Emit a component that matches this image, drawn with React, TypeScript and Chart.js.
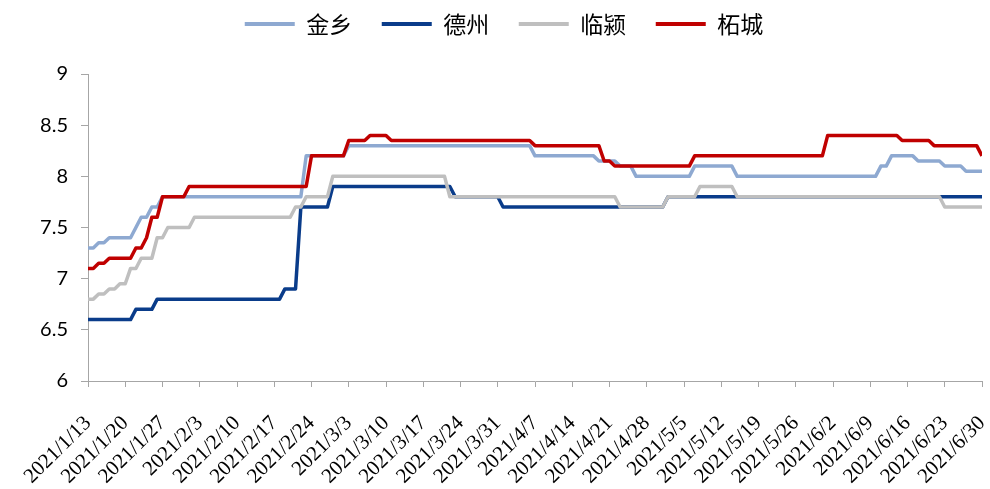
import React, { useEffect, useRef } from 'react';
import { Chart, registerables } from 'chart.js';

Chart.register(...registerables);

// x-axis tick labels (one every 7 days, daily data from 2021/1/13 to 2021/6/30)
const tickLabels = [
  '2021/1/13', '2021/1/20', '2021/1/27', '2021/2/3', '2021/2/10', '2021/2/17', '2021/2/24',
  '2021/3/3', '2021/3/10', '2021/3/17', '2021/3/24', '2021/3/31', '2021/4/7', '2021/4/14',
  '2021/4/21', '2021/4/28', '2021/5/5', '2021/5/12', '2021/5/19', '2021/5/26', '2021/6/2',
  '2021/6/9', '2021/6/16', '2021/6/23', '2021/6/30',
];

const seriesNames = ['金乡', '德州', '临颍', '柘城'];

// daily values, 169 days
const jinxiang = [
  7.3, 7.3, 7.35, 7.35, 7.4, 7.4, 7.4, 7.4, 7.4, 7.5,
  7.6, 7.6, 7.7, 7.7, 7.8, 7.8, 7.8, 7.8, 7.8, 7.8,
  7.8, 7.8, 7.8, 7.8, 7.8, 7.8, 7.8, 7.8, 7.8, 7.8,
  7.8, 7.8, 7.8, 7.8, 7.8, 7.8, 7.8, 7.8, 7.8, 7.8,
  7.8, 8.2, 8.2, 8.2, 8.2, 8.2, 8.2, 8.2, 8.2, 8.3,
  8.3, 8.3, 8.3, 8.3, 8.3, 8.3, 8.3, 8.3, 8.3, 8.3,
  8.3, 8.3, 8.3, 8.3, 8.3, 8.3, 8.3, 8.3, 8.3, 8.3,
  8.3, 8.3, 8.3, 8.3, 8.3, 8.3, 8.3, 8.3, 8.3, 8.3,
  8.3, 8.3, 8.3, 8.3, 8.2, 8.2, 8.2, 8.2, 8.2, 8.2,
  8.2, 8.2, 8.2, 8.2, 8.2, 8.2, 8.15, 8.15, 8.15, 8.15,
  8.1, 8.1, 8.1, 8.0, 8.0, 8.0, 8.0, 8.0, 8.0, 8.0,
  8.0, 8.0, 8.0, 8.0, 8.1, 8.1, 8.1, 8.1, 8.1, 8.1,
  8.1, 8.1, 8.0, 8.0, 8.0, 8.0, 8.0, 8.0, 8.0, 8.0,
  8.0, 8.0, 8.0, 8.0, 8.0, 8.0, 8.0, 8.0, 8.0, 8.0,
  8.0, 8.0, 8.0, 8.0, 8.0, 8.0, 8.0, 8.0, 8.0, 8.1,
  8.1, 8.2, 8.2, 8.2, 8.2, 8.2, 8.15, 8.15, 8.15, 8.15,
  8.15, 8.1, 8.1, 8.1, 8.1, 8.05, 8.05, 8.05, 8.05,
];

const dezhou = [
  6.6, 6.6, 6.6, 6.6, 6.6, 6.6, 6.6, 6.6, 6.6, 6.7,
  6.7, 6.7, 6.7, 6.8, 6.8, 6.8, 6.8, 6.8, 6.8, 6.8,
  6.8, 6.8, 6.8, 6.8, 6.8, 6.8, 6.8, 6.8, 6.8, 6.8,
  6.8, 6.8, 6.8, 6.8, 6.8, 6.8, 6.8, 6.9, 6.9, 6.9,
  7.7, 7.7, 7.7, 7.7, 7.7, 7.7, 7.9, 7.9, 7.9, 7.9,
  7.9, 7.9, 7.9, 7.9, 7.9, 7.9, 7.9, 7.9, 7.9, 7.9,
  7.9, 7.9, 7.9, 7.9, 7.9, 7.9, 7.9, 7.9, 7.9, 7.8,
  7.8, 7.8, 7.8, 7.8, 7.8, 7.8, 7.8, 7.8, 7.7, 7.7,
  7.7, 7.7, 7.7, 7.7, 7.7, 7.7, 7.7, 7.7, 7.7, 7.7,
  7.7, 7.7, 7.7, 7.7, 7.7, 7.7, 7.7, 7.7, 7.7, 7.7,
  7.7, 7.7, 7.7, 7.7, 7.7, 7.7, 7.7, 7.7, 7.7, 7.8,
  7.8, 7.8, 7.8, 7.8, 7.8, 7.8, 7.8, 7.8, 7.8, 7.8,
  7.8, 7.8, 7.8, 7.8, 7.8, 7.8, 7.8, 7.8, 7.8, 7.8,
  7.8, 7.8, 7.8, 7.8, 7.8, 7.8, 7.8, 7.8, 7.8, 7.8,
  7.8, 7.8, 7.8, 7.8, 7.8, 7.8, 7.8, 7.8, 7.8, 7.8,
  7.8, 7.8, 7.8, 7.8, 7.8, 7.8, 7.8, 7.8, 7.8, 7.8,
  7.8, 7.8, 7.8, 7.8, 7.8, 7.8, 7.8, 7.8, 7.8,
];

const linying = [
  6.8, 6.8, 6.85, 6.85, 6.9, 6.9, 6.95, 6.95, 7.1, 7.1,
  7.2, 7.2, 7.2, 7.4, 7.4, 7.5, 7.5, 7.5, 7.5, 7.5,
  7.6, 7.6, 7.6, 7.6, 7.6, 7.6, 7.6, 7.6, 7.6, 7.6,
  7.6, 7.6, 7.6, 7.6, 7.6, 7.6, 7.6, 7.6, 7.6, 7.7,
  7.7, 7.8, 7.8, 7.8, 7.8, 7.8, 8.0, 8.0, 8.0, 8.0,
  8.0, 8.0, 8.0, 8.0, 8.0, 8.0, 8.0, 8.0, 8.0, 8.0,
  8.0, 8.0, 8.0, 8.0, 8.0, 8.0, 8.0, 8.0, 7.8, 7.8,
  7.8, 7.8, 7.8, 7.8, 7.8, 7.8, 7.8, 7.8, 7.8, 7.8,
  7.8, 7.8, 7.8, 7.8, 7.8, 7.8, 7.8, 7.8, 7.8, 7.8,
  7.8, 7.8, 7.8, 7.8, 7.8, 7.8, 7.8, 7.8, 7.8, 7.8,
  7.7, 7.7, 7.7, 7.7, 7.7, 7.7, 7.7, 7.7, 7.7, 7.8,
  7.8, 7.8, 7.8, 7.8, 7.8, 7.9, 7.9, 7.9, 7.9, 7.9,
  7.9, 7.9, 7.8, 7.8, 7.8, 7.8, 7.8, 7.8, 7.8, 7.8,
  7.8, 7.8, 7.8, 7.8, 7.8, 7.8, 7.8, 7.8, 7.8, 7.8,
  7.8, 7.8, 7.8, 7.8, 7.8, 7.8, 7.8, 7.8, 7.8, 7.8,
  7.8, 7.8, 7.8, 7.8, 7.8, 7.8, 7.8, 7.8, 7.8, 7.8,
  7.8, 7.7, 7.7, 7.7, 7.7, 7.7, 7.7, 7.7, 7.7,
];

const zhecheng = [
  7.1, 7.1, 7.15, 7.15, 7.2, 7.2, 7.2, 7.2, 7.2, 7.3,
  7.3, 7.4, 7.6, 7.6, 7.8, 7.8, 7.8, 7.8, 7.8, 7.9,
  7.9, 7.9, 7.9, 7.9, 7.9, 7.9, 7.9, 7.9, 7.9, 7.9,
  7.9, 7.9, 7.9, 7.9, 7.9, 7.9, 7.9, 7.9, 7.9, 7.9,
  7.9, 7.9, 8.2, 8.2, 8.2, 8.2, 8.2, 8.2, 8.2, 8.35,
  8.35, 8.35, 8.35, 8.4, 8.4, 8.4, 8.4, 8.35, 8.35, 8.35,
  8.35, 8.35, 8.35, 8.35, 8.35, 8.35, 8.35, 8.35, 8.35, 8.35,
  8.35, 8.35, 8.35, 8.35, 8.35, 8.35, 8.35, 8.35, 8.35, 8.35,
  8.35, 8.35, 8.35, 8.35, 8.3, 8.3, 8.3, 8.3, 8.3, 8.3,
  8.3, 8.3, 8.3, 8.3, 8.3, 8.3, 8.3, 8.15, 8.15, 8.1,
  8.1, 8.1, 8.1, 8.1, 8.1, 8.1, 8.1, 8.1, 8.1, 8.1,
  8.1, 8.1, 8.1, 8.1, 8.2, 8.2, 8.2, 8.2, 8.2, 8.2,
  8.2, 8.2, 8.2, 8.2, 8.2, 8.2, 8.2, 8.2, 8.2, 8.2,
  8.2, 8.2, 8.2, 8.2, 8.2, 8.2, 8.2, 8.2, 8.2, 8.4,
  8.4, 8.4, 8.4, 8.4, 8.4, 8.4, 8.4, 8.4, 8.4, 8.4,
  8.4, 8.4, 8.4, 8.35, 8.35, 8.35, 8.35, 8.35, 8.35, 8.3,
  8.3, 8.3, 8.3, 8.3, 8.3, 8.3, 8.3, 8.3, 8.2,
];

const seriesValues = [jinxiang, dezhou, linying, zhecheng];
const seriesColors = ['#8EA9D1', '#0A3C8A', '#BFBFBF', '#C00000'];
// drawing order: later Excel series on top
const seriesOrder = [4, 3, 2, 1];

const axisColor = '#A6A6A6';

export default function App() {
  const canvasRef = useRef<HTMLCanvasElement>(null);

  useEffect(() => {
    document.body.style.margin = '0';
    const canvas = canvasRef.current;
    if (!canvas) return;

    const legendSpacer = {
      id: 'legendSpacer',
      beforeLayout(chart: any) {
        const lg = chart.legend;
        if (lg && !lg.__patched) {
          const orig = lg.fit;
          lg.fit = function () {
            orig.call(this);
            this.height += 28.5;
          };
          lg.__patched = true;
        }
      },
    };

    const chart = new Chart(canvas, {
      type: 'line',
      data: {
        datasets: seriesValues.map((vals, i) => ({
          label: seriesNames[i],
          data: vals.map((y, x) => ({ x, y })),
          borderColor: seriesColors[i],
          backgroundColor: seriesColors[i],
          borderWidth: 3.5,
          pointRadius: 0,
          pointHoverRadius: 0,
          tension: 0,
          fill: false,
          order: seriesOrder[i],
          borderJoinStyle: 'round' as const,
          borderCapStyle: 'butt' as const,
        })),
      },
      options: {
        responsive: false,
        animation: false,
        layout: { padding: { top: -17, left: 18, right: 0, bottom: 0 } },
        plugins: {
          tooltip: { enabled: false },
          legend: {
            position: 'top',
            labels: {
              boxWidth: 50,
              boxHeight: 4,
              padding: 29.5,
              color: '#000',
              font: { size: 23, family: '"Noto Sans CJK SC", sans-serif' },
              generateLabels: (ch: any) =>
                (Chart.defaults.plugins.legend.labels.generateLabels as any)(ch).map((it: any) => ({
                  ...it,
                  lineWidth: 0,
                  fillStyle: seriesColors[it.datasetIndex],
                })),
              sort: (a: any, b: any) => a.datasetIndex - b.datasetIndex,
            },
          },
        },
        scales: {
          x: {
            type: 'linear',
            min: 0,
            max: 168,
            ticks: {
              stepSize: 7,
              autoSkip: false,
              maxTicksLimit: 100,
              minRotation: 45,
              maxRotation: 45,
              padding: 24,
              color: '#000',
              font: { size: 21, family: '"Liberation Serif", serif' },
              callback: (v: any) => tickLabels[Math.round(Number(v) / 7)] ?? '',
            },
            grid: {
              display: true,
              drawOnChartArea: false,
              drawTicks: true,
              tickLength: 6,
              color: axisColor,
            },
            border: { display: true, color: axisColor, width: 1 },
            afterFit: (s: any) => {
              s.height = 108;
              s.paddingRight = 8;
              s.paddingLeft = 0;
            },
          },
          y: {
            min: 6,
            max: 9,
            ticks: {
              stepSize: 0.5,
              padding: 13,
              color: '#000',
              font: { size: 20, family: 'Lato, sans-serif' },
              callback: (v: any) => String(Number(v)),
            },
            grid: {
              display: true,
              drawOnChartArea: false,
              drawTicks: true,
              tickLength: 7,
              color: axisColor,
            },
            border: { display: true, color: axisColor, width: 1 },
            afterFit: (s: any) => {
              s.width = 70;
            },
          },
        },
      },
      plugins: [legendSpacer],
    });

    return () => chart.destroy();
  }, []);

  return (
    <div style={{ width: 990, height: 489 }}>
      <canvas ref={canvasRef} width={990} height={489} style={{ display: 'block', width: 990, height: 489 }} />
    </div>
  );
}
